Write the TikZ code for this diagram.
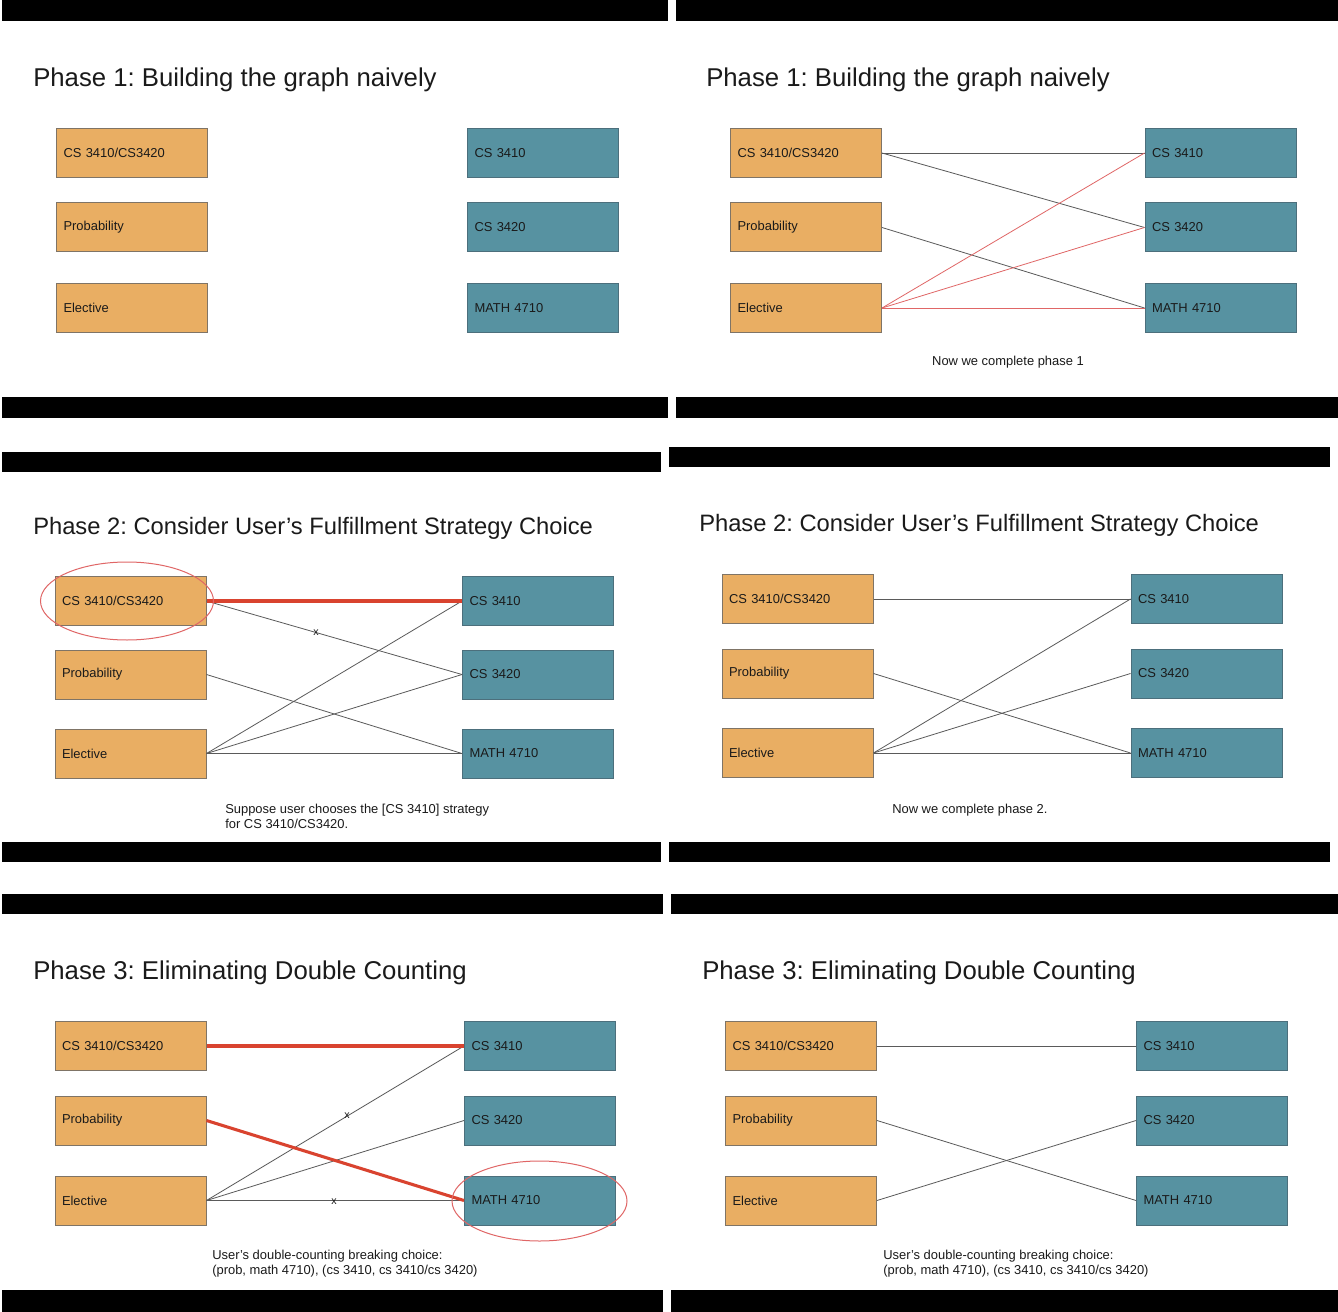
\documentclass[tikz,border=0pt]{standalone}
\usepackage{fontspec}
\setmainfont{Liberation Sans}
\usetikzlibrary{shapes.geometric}
\frenchspacing
\definecolor{ofill}{HTML}{E9AE63}
\definecolor{bfill}{HTML}{5792A1}
\definecolor{oborder}{HTML}{7F7466}
\definecolor{bborder}{HTML}{4C6F7C}
\definecolor{thinline}{HTML}{5A5A5A}
\definecolor{redthick}{HTML}{D9432F}
\definecolor{redthin}{HTML}{E06666}
\definecolor{txt}{HTML}{1A1A1A}
\tikzset{
  box/.style={rectangle, draw, line width=0.75pt, minimum height=36.75pt,
    text width=102.75pt, inner xsep=5.25pt, align=left, text=txt,
    font=\fontsize{9.7}{11}\selectfont},
  obox/.style={box, fill=ofill, draw=oborder},
  bbox/.style={box, fill=bfill, draw=bborder},
  bar/.style={fill=black, draw=none},
  title/.style={anchor=base west, inner sep=0pt, text=txt,
    font=\fontsize{19.3}{22}\selectfont},
  smalltitle/.style={title, font=\fontsize{17.8}{21}\selectfont},
  captext/.style={inner sep=0pt, text=txt, font=\fontsize{9.7}{11}\selectfont},
  xmark/.style={inner sep=0pt, text=txt, font=\fontsize{8}{9}\selectfont},
  edge/.style={draw=thinline, line width=0.6pt},
  redthinedge/.style={draw=redthin, line width=0.6pt},
  redthickedge/.style={draw=redthick, line width=2.3pt},
  ring/.style={ellipse, draw=redthin, line width=0.75pt, fill=none}
}
\begin{document}
\begin{tikzpicture}[x=0.75pt,y=-0.75pt]
\useasboundingbox (0,0) rectangle (1338,1312);
\fill[white] (0,0) rectangle (1338,1312);

% ---------- black bars ----------
\fill[bar] (2,0) rectangle (668,21);
\fill[bar] (2,397) rectangle (668,418);
\fill[bar] (676,0) rectangle (1338,21);
\fill[bar] (676,397) rectangle (1338,418);
\fill[bar] (2,452) rectangle (661,472);
\fill[bar] (2,842) rectangle (661,862);
\fill[bar] (669,447) rectangle (1330,467);
\fill[bar] (669,842) rectangle (1330,862);
\fill[bar] (2,894) rectangle (663,914);
\fill[bar] (2,1290) rectangle (663,1312);
\fill[bar] (671,894) rectangle (1338,914);
\fill[bar] (671,1290) rectangle (1338,1312);

% ---------- Panel 1 ----------
\node[title] (t1) at (33,87) {Phase 1: Building the graph naively};
\node[obox] (p1a) at (132,153) {CS 3410/CS3420};
\node[obox] (p1b) at (132,227.5) {Probability};
\node[obox] (p1c) at (132,308) {Elective};
\node[bbox] (p1x) at (543,153) {CS 3410};
\node[bbox] (p1y) at (543,227.5) {CS 3420};
\node[bbox] (p1z) at (543,308) {MATH 4710};

% ---------- Panel 2 ----------
\node[title] (t2) at (706,87) {Phase 1: Building the graph naively};
\node[obox] (p2a) at (806,153) {CS 3410/CS3420};
\node[obox] (p2b) at (806,227.5) {Probability};
\node[obox] (p2c) at (806,308) {Elective};
\node[bbox] (p2x) at (1220.5,153) {CS 3410};
\node[bbox] (p2y) at (1220.5,227.5) {CS 3420};
\node[bbox] (p2z) at (1220.5,308) {MATH 4710};
\draw[edge] (p2a.east) -- (p2x.west);
\draw[edge] (p2a.east) -- (p2y.west);
\draw[edge] (p2b.east) -- (p2z.west);
\draw[redthinedge] (p2c.east) -- (p2x.west);
\draw[redthinedge] (p2c.east) -- (p2y.west);
\draw[redthinedge] (p2c.east) -- (p2z.west);
\node[captext, anchor=base] (c2) at (1008,366) {Now we complete phase 1};

% ---------- Panel 3 ----------
\node[smalltitle] (t3) at (33,534) {Phase 2: Consider User’s Fulfillment Strategy Choice};
\node[obox] (p3a) at (130.5,601) {CS 3410/CS3420};
\node[obox] (p3b) at (130.5,674.5) {Probability};
\node[obox] (p3c) at (130.5,753.5) {Elective};
\node[bbox] (p3x) at (538,601) {CS 3410};
\node[bbox] (p3y) at (538,674.5) {CS 3420};
\node[bbox] (p3z) at (538,753.5) {MATH 4710};
\draw[edge] (p3a.east) -- (p3y.west);
\draw[edge] (p3b.east) -- (p3z.west);
\draw[edge] (p3c.east) -- (p3x.west);
\draw[edge] (p3c.east) -- (p3y.west);
\draw[edge] (p3c.east) -- (p3z.west);
\draw[redthickedge] (p3a.east) -- (p3x.west);
\node[ring, minimum width=129.75pt, minimum height=58.5pt] (e3) at (127,601) {};
\node[xmark] (x3) at (316,633) {x};
\node[captext, anchor=base west] (c3a) at (225,813) {Suppose user chooses the [CS 3410] strategy};
\node[captext, anchor=base west] (c3b) at (225,828) {for CS 3410/CS3420.};

% ---------- Panel 4 ----------
\node[smalltitle] (t4) at (699,531) {Phase 2: Consider User’s Fulfillment Strategy Choice};
\node[obox] (p4a) at (797.5,599) {CS 3410/CS3420};
\node[obox] (p4b) at (797.5,673.5) {Probability};
\node[obox] (p4c) at (797.5,753) {Elective};
\node[bbox] (p4x) at (1206.5,599) {CS 3410};
\node[bbox] (p4y) at (1206.5,673.5) {CS 3420};
\node[bbox] (p4z) at (1206.5,753) {MATH 4710};
\draw[edge] (p4a.east) -- (p4x.west);
\draw[edge] (p4b.east) -- (p4z.west);
\draw[edge] (p4c.east) -- (p4x.west);
\draw[edge] (p4c.east) -- (p4y.west);
\draw[edge] (p4c.east) -- (p4z.west);
\node[captext, anchor=base west] (c4) at (892,813) {Now we complete phase 2.};

% ---------- Panel 5 ----------
\node[title] (t5) at (33,979) {Phase 3: Eliminating Double Counting};
\node[obox] (p5a) at (130.5,1046) {CS 3410/CS3420};
\node[obox] (p5b) at (130.5,1120.5) {Probability};
\node[obox] (p5c) at (130.5,1200.5) {Elective};
\node[bbox] (p5x) at (540,1046) {CS 3410};
\node[bbox] (p5y) at (540,1120.5) {CS 3420};
\node[bbox] (p5z) at (540,1200.5) {MATH 4710};
\draw[edge] (p5c.east) -- (p5x.west);
\draw[edge] (p5c.east) -- (p5y.west);
\draw[edge] (p5c.east) -- (p5z.west);
\draw[redthickedge] (p5a.east) -- (p5x.west);
\draw[redthickedge] (p5b.east) -- (p5z.west);
\node[ring, minimum width=131.25pt, minimum height=60pt] (e5) at (539.5,1201) {};
\node[xmark] (x5a) at (347,1116) {x};
\node[xmark] (x5b) at (334,1202) {x};
\node[captext, anchor=base west] (c5a) at (212,1259) {User’s double-counting breaking choice:};
\node[captext, anchor=base west] (c5b) at (212,1274) {(prob, math 4710), (cs 3410, cs 3410/cs 3420)};

% ---------- Panel 6 ----------
\node[title] (t6) at (702,979) {Phase 3: Eliminating Double Counting};
\node[obox] (p6a) at (801,1046) {CS 3410/CS3420};
\node[obox] (p6b) at (801,1120.5) {Probability};
\node[obox] (p6c) at (801,1200.5) {Elective};
\node[bbox] (p6x) at (1212,1046) {CS 3410};
\node[bbox] (p6y) at (1212,1120.5) {CS 3420};
\node[bbox] (p6z) at (1212,1200.5) {MATH 4710};
\draw[edge] (p6a.east) -- (p6x.west);
\draw[edge] (p6b.east) -- (p6z.west);
\draw[edge] (p6c.east) -- (p6y.west);
\node[captext, anchor=base west] (c6a) at (883,1259) {User’s double-counting breaking choice:};
\node[captext, anchor=base west] (c6b) at (883,1274) {(prob, math 4710), (cs 3410, cs 3410/cs 3420)};
\end{tikzpicture}
\end{document}
